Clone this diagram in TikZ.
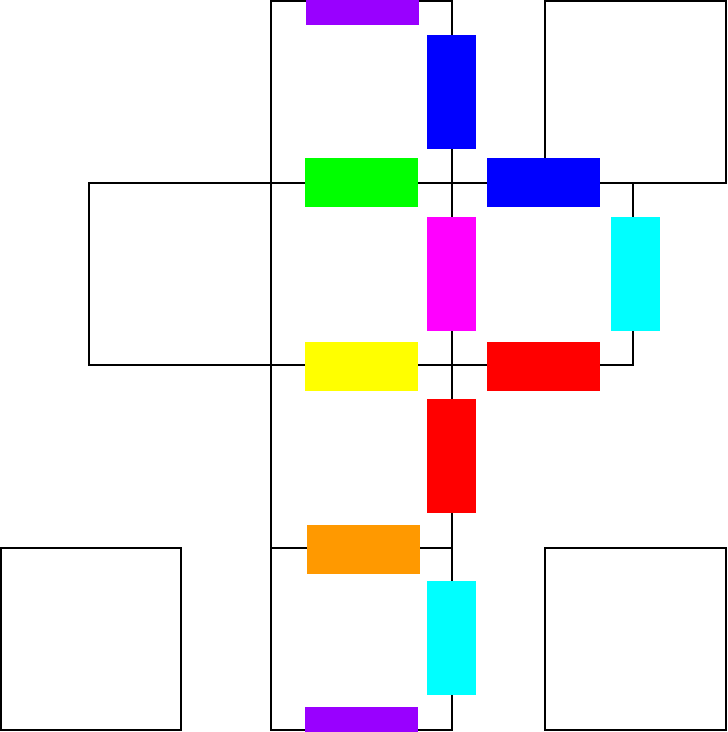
\documentclass[tikz,border=0pt]{standalone}
\usepackage{xcolor}
\usepackage{tikz}
\definecolor{facepurple}{HTML}{9900FF}
\definecolor{faceorange}{HTML}{FF9900}
\definecolor{facecyan}{HTML}{00FFFF}
\definecolor{facemagenta}{HTML}{FF00FF}
\definecolor{faceyellow}{HTML}{FFFF00}
\definecolor{faceblue}{HTML}{0000FF}
\definecolor{facegreen}{HTML}{00FF00}
\definecolor{facered}{HTML}{FF0000}

\begin{document}
\begin{tikzpicture}[x=0.5pt,y=-0.5pt,line width=0.75pt,
    hbar/.style={minimum width=56.5pt,minimum height=24.5pt,inner sep=0pt},
    vbar/.style={minimum width=24.5pt,minimum height=57pt,inner sep=0pt}]
  \clip (0,0) rectangle (727,732);
  % squares round the column
  \draw (545,1) rectangle (726,183);
  \draw (89,183) rectangle (271,365);
  \draw (1,548) rectangle (181,730);
  \draw (545,548) rectangle (726,730);
  % column and right loop
  \draw (271,1) rectangle (452,730);
  \foreach \y in {183,365,548} \draw (271,\y) -- (452,\y);
  \draw (452,183) -- (633,183) -- (633,365) -- (452,365);
  % bars
  \node[hbar,fill=facepurple] (ptop) at (362,1) {};
  \node[vbar,fill=faceblue] (bcol) at (451.5,92) {};
  \node[hbar,fill=facegreen] (gmid) at (361.5,183) {};
  \node[hbar,fill=faceblue] (brow) at (543,183) {};
  \node[vbar,fill=facemagenta] (mcol) at (451.5,274) {};
  \node[vbar,fill=facecyan] (cright) at (635,274) {};
  \node[hbar,fill=faceyellow] (ymid) at (361.5,366) {};
  \node[hbar,fill=facered] (rrow) at (543,366) {};
  \node[vbar,fill=facered] (rcol) at (451.5,456) {};
  \node[hbar,fill=faceorange] (omid) at (363,549) {};
  \node[vbar,fill=facecyan] (ccol) at (451.5,638) {};
  \node[hbar,fill=facepurple] (pbot) at (361.5,731) {};
\end{tikzpicture}
\end{document}
